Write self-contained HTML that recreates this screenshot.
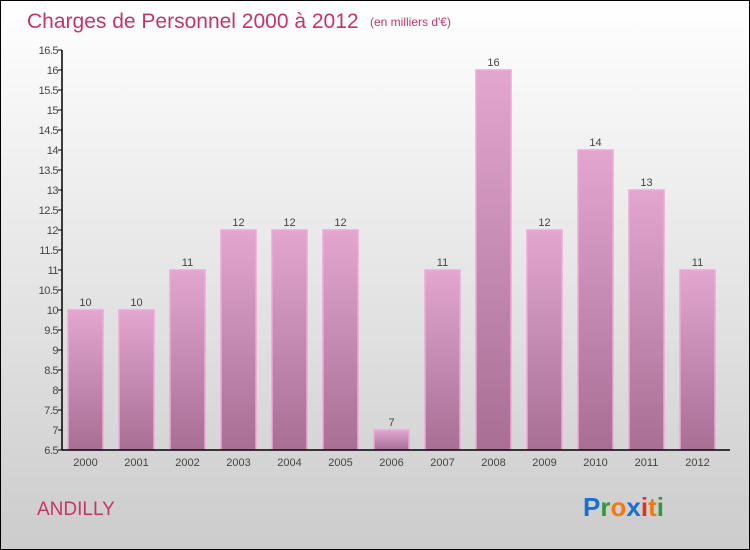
<!DOCTYPE html>
<html><head><meta charset="utf-8"><style>
body{margin:0}
#c{width:748px;height:548px;border:1px solid #000;background:linear-gradient(#ffffff,#cccccc);position:relative;font-family:"Liberation Sans",sans-serif;overflow:hidden}
</style></head><body>
<div id="c">
<svg width="748" height="548">
<defs><linearGradient id="bg" x1="0" y1="0" x2="0" y2="1"><stop offset="0" stop-color="#e3a7cf"/><stop offset="1" stop-color="#a86e94"/></linearGradient></defs>
<text x="26" y="27" font-size="21" fill="#c8336a">Charges de Personnel 2000 à 2012</text>
<text x="369" y="25" font-size="12" fill="#c8336a">(en milliers d'€)</text>
<text x="36" y="514" font-size="19" fill="#c8336a">ANDILLY</text>
<g font-size="26" font-weight="bold" font-family="Liberation Sans,sans-serif">
<text x="582" y="515"><tspan fill="#1a6fd0">P</tspan><tspan fill="#2e9a3a">r</tspan><tspan fill="#f07a10">o</tspan><tspan fill="#1a6fd0">x</tspan><tspan fill="#e03020">i</tspan><tspan fill="#f07a10">t</tspan><tspan fill="#2e9a3a">i</tspan></text></g>
<g id="plot"></g>
</svg></div>
<script>
const years=["2000","2001","2002","2003","2004","2005","2006","2007","2008","2009","2010","2011","2012"];
const values=[10,10,11,12,12,12,7,11,16,12,14,13,11];
const yTicks=[6.5,7,7.5,8,8.5,9,9.5,10,10.5,11,11.5,12,12.5,13,13.5,14,14.5,15,15.5,16,16.5];
const NS="http://www.w3.org/2000/svg";
const g=document.getElementById('plot');
const y0=449,yMin=6.5,yMax=16.5,yTop=49;
const Y=v=>y0-(v-yMin)/(yMax-yMin)*(y0-yTop);
const X=i=>67+i*51;
function mk(t,a,p){const e=document.createElementNS(NS,t);for(const k in a)e.setAttribute(k,a[k]);(p||g).appendChild(e);return e;}
values.forEach((v,i)=>{
 const r=mk('rect',{x:X(i),y:Y(v),width:35,height:y0-Y(v),fill:'url(#bg)',stroke:'#f0a8d8','stroke-width':1.5});
 
 
 const t=mk('text',{x:X(i)+17.5,y:Y(v)-4,'font-size':11,'text-anchor':'middle',fill:'#444'});t.textContent=v;
 
 
 const xl=mk('text',{x:X(i)+17.5,y:465,'font-size':11,'text-anchor':'middle',fill:'#444'});xl.textContent=years[i];
 
 
});
yTicks.forEach(v=>{
 mk('line',{x1:57,x2:61,y1:Y(v),y2:Y(v),stroke:'#000'});
 const t=mk('text',{x:57,y:Y(v)+4,'font-size':11,'text-anchor':'end',fill:'#444','letter-spacing':'-0.5'});t.textContent=v;
 
 
});
const ya=mk('line',{x1:61,x2:61,y1:yTop,y2:y0,stroke:'#000','stroke-width':1.5});


const xa=mk('line',{x1:61,x2:729,y1:y0,y2:y0,stroke:'#000','stroke-width':1.5});


</script>
</body></html>
